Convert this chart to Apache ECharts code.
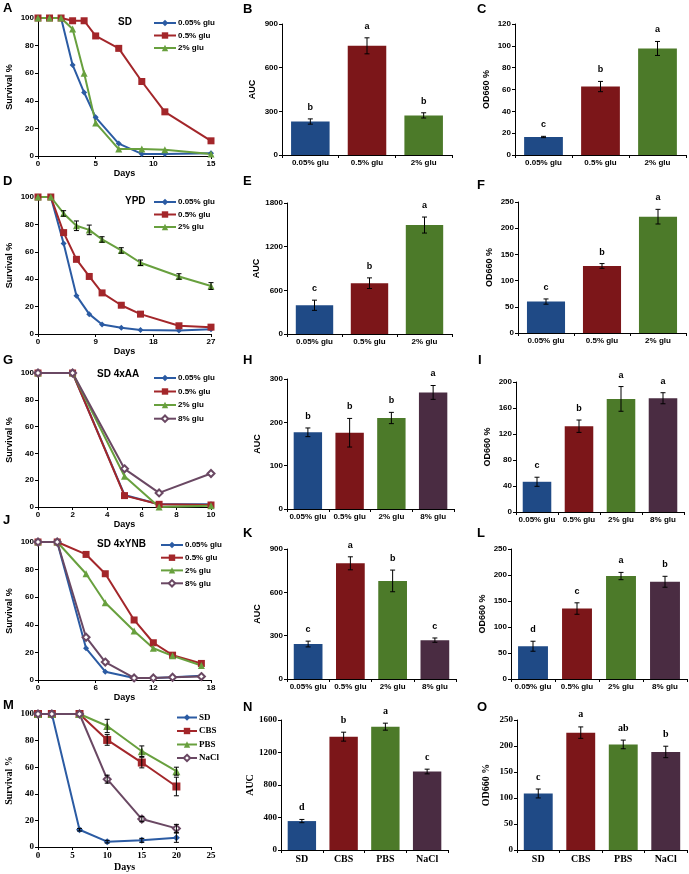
<!DOCTYPE html>
<html>
<head>
<meta charset="utf-8">
<script src="https://cdn.jsdelivr.net/npm/echarts@6/dist/echarts.min.js"></script>
<style>
html,body{margin:0;padding:0;background:#fff}
#main{width:689px;height:874px}
</style>
</head>
<body>
<div id="main"></div>
<script>
var SANS = 'Liberation Sans, Arial, sans-serif';
var SERIF = 'Liberation Serif, Times New Roman, serif';

// ---- survival curves ----
var daysA = [0, 1, 2, 3, 4, 5, 7, 9, 11, 15];
var aLow  = [100, 100, 100, 66, 46, 28, 9, 1.5, 1.5, 2];
var aMid  = [100, 100, 100, 98, 98, 87, 78, 54, 32, 11];
var aHigh = [100, 100, 100, 92, 60, 24, 5, 5, 4.5, 1.5];

var daysD = [0, 2, 4, 6, 8, 10, 13, 16, 22, 27];
var dLow  = [100, 100, 66, 28, 14.5, 7, 4.5, 3, 2.5, 3.5];
var dMid  = [100, 100, 74, 54.5, 42, 30, 21, 14.5, 6, 5];
var dHigh = [100, 100, 88, 79, 76, 69, 61, 52, 42, 35];
var dHighErr = [0, 0, 2, 3.5, 3.5, 2, 2, 2, 2, 2.5];

var daysG = [0, 2, 5, 7, 10];
var gLow  = [100, 100, 9, 2, 2];
var gMid  = [100, 100, 8.5, 2, 1.5];
var gHigh = [100, 100, 23, 0, 1];
var gMax  = [100, 100, 28.5, 10.5, 25];

var daysJ = [0, 2, 5, 7, 10, 12, 14, 17];
var jLow  = [100, 100, 23, 6, 1.5, 1.5, 2, 3];
var jMid  = [100, 100, 91, 77, 43.5, 27, 18, 12];
var jHigh = [100, 100, 77, 56, 35.5, 23, 17.5, 10.5];
var jMax  = [100, 100, 31, 13, 1.5, 1.5, 2, 2.5];

var daysM = [0, 2, 6, 10, 15, 20];
var mSD   = [100, 100, 13, 4, 5, 7];
var mCBS  = [100, 100, 100, 80.5, 63.5, 45.5];
var mPBS  = [100, 100, 100, 91, 72, 57];
var mNaCl = [100, 100, 100, 51, 21, 14];
var mSDErr   = [0, 0, 1, 1, 1.5, 3.5];
var mCBSErr  = [0, 0, 0, 4, 4, 7];
var mPBSErr  = [0, 0, 0, 5, 4, 3];
var mNaClErr = [0, 0, 0, 3, 2, 3];

var survTicks = [0, 20, 40, 60, 80, 100];
var ticksA = [0, 5, 10, 15];
var ticksD = [0, 9, 18, 27];
var ticksG = [0, 2, 4, 6, 8, 10];
var ticksJ = [0, 6, 12, 18];
var ticksM = [0, 5, 10, 15, 20, 25];

// ---- bar panels ----
var glu3 = ['0.05% glu', '0.5% glu', '2% glu'];
var glu4 = ['0.05% glu', '0.5% glu', '2% glu', '8% glu'];
var media = ['SD', 'CBS', 'PBS', 'NaCl'];

var bVal = [230, 750, 272],   bErr = [18, 55, 18],   bSig = ['b', 'a', 'b'];
var cVal = [16.5, 62.7, 97.6], cErr = [0.6, 4.7, 6.4], cSig = ['c', 'b', 'a'];
var eVal = [395, 698, 1497],  eErr = [70, 73, 110],  eSig = ['c', 'b', 'a'];
var fVal = [60, 128, 222],    fErr = [5, 4.5, 14],   fSig = ['c', 'b', 'a'];
var hVal = [177, 176, 210, 269], hErr = [10, 33, 13, 16], hSig = ['b', 'b', 'b', 'a'];
var iVal = [46.5, 132, 174, 175], iErr = [7, 9.5, 19, 8.5], iSig = ['c', 'b', 'a', 'a'];
var kVal = [242, 801, 679, 269], kErr = [20, 45, 75, 15], kSig = ['c', 'a', 'b', 'c'];
var lVal = [63, 135.5, 198, 187], lErr = [9.6, 11, 7, 10.5], lSig = ['d', 'c', 'a', 'b'];
var nVal = [356, 1395, 1518, 966], nErr = [20, 55, 43, 29], nSig = ['d', 'b', 'a', 'c'];
var oVal = [108.7, 225.7, 203, 188.6], oErr = [8.6, 11, 8.3, 11], oSig = ['c', 'a', 'ab', 'b'];

var ticksB = [0, 300, 600, 900];
var ticksC = [0, 20, 40, 60, 80, 100, 120];
var ticksE = [0, 600, 1200, 1800];
var ticksF = [0, 50, 100, 150, 200, 250];
var ticksH = [0, 100, 200, 300];
var ticksI = [0, 40, 80, 120, 160, 200];
var ticksK = [0, 300, 600, 900];
var ticksL = [0, 50, 100, 150, 200, 250];
var ticksN = [0, 400, 800, 1200, 1600];
var ticksO = [0, 50, 100, 150, 200, 250];

var barCol = ['#1f4a86', '#7c1619', '#4c7a29', '#4a2c42'];
var lineBlue = '#2b5ba3', lineRed = '#a3262a', lineGreen = '#68a03e', linePurple = '#6a4863';

var chart = echarts.init(document.getElementById('main'));
var grids = [], xAxes = [], yAxes = [], series = [], legends = [], graphics = [];

function axisBase(font, size) {
  return {
    axisLine: { show: true, onZero: false, lineStyle: { color: '#000', width: 1 } },
    axisTick: { show: true, length: 3, lineStyle: { color: '#000', width: 1 } },
    splitLine: { show: false },
    axisLabel: { color: '#000', fontFamily: font, fontSize: size, fontWeight: 'bold', margin: 4,
      formatter: function (v) { return String(v); } },
    nameTextStyle: { color: '#000', fontFamily: font, fontSize: size + 1, fontWeight: 'bold' }
  };
}

function range(t) {
  return { min: t[0], max: t[t.length - 1], interval: t[1] - t[0] };
}

function errSeries(gi, xs, vals, errs, sig, font, fsize) {
  return {
    type: 'custom', xAxisIndex: gi, yAxisIndex: gi, z: 10, silent: true,
    data: vals.map(function (v, i) { return [xs[i], v, errs[i]]; }),
    renderItem: function (params, api) {
      var x = api.value(0), v = api.value(1), e = api.value(2);
      var t = api.coord([x, v + e]), b = api.coord([x, v - e]);
      var st = { stroke: '#000', lineWidth: 1 };
      var kids = [];
      if (e > 0) {
        kids.push({ type: 'line', shape: { x1: t[0], y1: t[1], x2: b[0], y2: b[1] }, style: st });
        kids.push({ type: 'line', shape: { x1: t[0] - 2.5, y1: t[1], x2: t[0] + 2.5, y2: t[1] }, style: st });
        kids.push({ type: 'line', shape: { x1: b[0] - 2.5, y1: b[1], x2: b[0] + 2.5, y2: b[1] }, style: st });
      }
      if (sig) {
        kids.push({ type: 'text', style: { text: sig[params.dataIndex], x: t[0], y: t[1] - 7,
          align: 'center', verticalAlign: 'bottom', fill: '#000',
          font: 'bold ' + fsize + 'px ' + font } });
      }
      return { type: 'group', children: kids };
    }
  };
}

function addLetter(txt, x, y) {
  graphics.push({ type: 'text', left: x, top: y,
    style: { text: txt, fill: '#000', font: 'bold 13px ' + SANS } });
}

function addSub(txt, x, y) {
  graphics.push({ type: 'text', left: x, top: y,
    style: { text: txt, fill: '#000', font: 'bold 10px ' + SANS } });
}

function linePanel(rect, xt, font, fs, lines, leg, gapX, errs) {
  var gi = grids.length;
  grids.push({ left: rect[0], top: rect[1], width: rect[2], height: rect[3] });
  var xa = Object.assign(axisBase(font, fs), range(xt), {
    type: 'value', gridIndex: gi, name: 'Days', nameLocation: 'middle', nameGap: gapX
  });
  var ya = Object.assign(axisBase(font, fs), range(survTicks), {
    type: 'value', gridIndex: gi, name: 'Survival %', nameLocation: 'middle', nameGap: 24
  });
  xAxes.push(xa); yAxes.push(ya);
  lines.forEach(function (l) {
    series.push({
      type: 'line', name: l.name, xAxisIndex: gi, yAxisIndex: gi,
      data: l.vals.map(function (v, i) { return [l.days[i], v]; }),
      symbol: l.symbol, symbolSize: l.size, showSymbol: true,
      lineStyle: { color: l.color, width: 2 },
      itemStyle: { color: l.color, borderColor: l.color, borderWidth: l.symbol === 'emptyDiamond' ? 1.2 : 0 },
      z: 3
    });
  });
  (errs || []).forEach(function (e) {
    series.push(errSeries(gi, e.days, e.vals, e.errs, null, font, fs));
  });
  legends.push({
    orient: 'vertical', left: leg[0], top: leg[1], itemWidth: leg[2], itemHeight: 8, itemGap: leg[3],
    padding: 0, selectedMode: false,
    data: lines.map(function (l) { return l.name; }),
    textStyle: { color: '#000', fontFamily: font, fontSize: leg[4], fontWeight: 'bold', padding: [0, 0, 0, -3] }
  });
}

function barPanel(rect, cats, vals, errs, sig, yt, yname, font, fs, gapY, lblSize) {
  var gi = grids.length;
  grids.push({ left: rect[0], top: rect[1], width: rect[2], height: rect[3] });
  var xa = Object.assign(axisBase(font, fs), {
    type: 'category', gridIndex: gi, data: cats
  });
  xa.axisLabel.fontSize = lblSize;
  xa.axisLabel.interval = 0;
  var ya = Object.assign(axisBase(font, fs), range(yt), {
    type: 'value', gridIndex: gi, name: yname, nameLocation: 'middle', nameGap: gapY
  });
  xAxes.push(xa); yAxes.push(ya);
  series.push({
    type: 'bar', xAxisIndex: gi, yAxisIndex: gi, barWidth: '68%',
    data: vals.map(function (v, i) { return { value: v, itemStyle: { color: barCol[i] } }; })
  });
  var idx = cats.map(function (c, i) { return i; });
  series.push(errSeries(gi, idx, vals, errs, sig, font, fs + 1));
}

var dia = 'diamond', sq = 'rect', tri = 'triangle', odia = 'emptyDiamond';

// A
linePanel([38, 18, 173, 138], ticksA, SANS, 8, [
  { name: '0.05% glu', days: daysA, vals: aLow, color: lineBlue, symbol: dia, size: 6 },
  { name: '0.5% glu', days: daysA, vals: aMid, color: lineRed, symbol: sq, size: 7 },
  { name: '2% glu', days: daysA, vals: aHigh, color: lineGreen, symbol: tri, size: 7 }
], [153, 19, 22, 4.5, 8], 12);
// D
linePanel([38, 197, 173, 137], ticksD, SANS, 8, [
  { name: '0.05% glu', days: daysD, vals: dLow, color: lineBlue, symbol: dia, size: 6 },
  { name: '0.5% glu', days: daysD, vals: dMid, color: lineRed, symbol: sq, size: 7 },
  { name: '2% glu', days: daysD, vals: dHigh, color: lineGreen, symbol: tri, size: 7 }
], [153, 198, 22, 4.5, 8], 12, [{ days: daysD, vals: dHigh, errs: dHighErr }]);
// G
linePanel([38, 373, 173, 134], ticksG, SANS, 8, [
  { name: '0.05% glu', days: daysG, vals: gLow, color: lineBlue, symbol: dia, size: 6 },
  { name: '0.5% glu', days: daysG, vals: gMid, color: lineRed, symbol: sq, size: 7 },
  { name: '2% glu', days: daysG, vals: gHigh, color: lineGreen, symbol: tri, size: 7 },
  { name: '8% glu', days: daysG, vals: gMax, color: linePurple, symbol: odia, size: 7 }
], [153, 374, 22, 5.5, 8], 12);
// J
linePanel([38, 542, 173, 138], ticksJ, SANS, 8, [
  { name: '0.05% glu', days: daysJ, vals: jLow, color: lineBlue, symbol: dia, size: 6 },
  { name: '0.5% glu', days: daysJ, vals: jMid, color: lineRed, symbol: sq, size: 7 },
  { name: '2% glu', days: daysJ, vals: jHigh, color: lineGreen, symbol: tri, size: 7 },
  { name: '8% glu', days: daysJ, vals: jMax, color: linePurple, symbol: odia, size: 7 }
], [160, 541, 22, 4.7, 8], 12);
// M
linePanel([38, 714, 173, 133], ticksM, SERIF, 9, [
  { name: 'SD', days: daysM, vals: mSD, color: lineBlue, symbol: dia, size: 7 },
  { name: 'CBS', days: daysM, vals: mCBS, color: lineRed, symbol: sq, size: 8 },
  { name: 'PBS', days: daysM, vals: mPBS, color: lineGreen, symbol: tri, size: 8 },
  { name: 'NaCl', days: daysM, vals: mNaCl, color: linePurple, symbol: odia, size: 7 }
], [176, 713, 20, 4.5, 9], 15, [
  { days: daysM, vals: mSD, errs: mSDErr },
  { days: daysM, vals: mCBS, errs: mCBSErr },
  { days: daysM, vals: mPBS, errs: mPBSErr },
  { days: daysM, vals: mNaCl, errs: mNaClErr }
]);

// bars
barPanel([282, 24, 170, 131], glu3, bVal, bErr, bSig, ticksB, 'AUC', SANS, 8, 25, 8);
barPanel([515, 24, 171, 131], glu3, cVal, cErr, cSig, ticksC, 'OD660 %', SANS, 8, 24, 8);
barPanel([287, 203, 165, 131], glu3, eVal, eErr, eSig, ticksE, 'AUC', SANS, 8, 25, 8);
barPanel([518, 202, 168, 131], glu3, fVal, fErr, fSig, ticksF, 'OD660 %', SANS, 8, 24, 8);
barPanel([287, 379, 167, 130], glu4, hVal, hErr, hSig, ticksH, 'AUC', SANS, 8, 25, 8);
barPanel([516, 382, 168, 130], glu4, iVal, iErr, iSig, ticksI, 'OD660 %', SANS, 8, 24, 8);
barPanel([287, 549, 169, 130], glu4, kVal, kErr, kSig, ticksK, 'AUC', SANS, 8, 25, 8);
barPanel([511, 549, 176, 130], glu4, lVal, lErr, lSig, ticksL, 'OD660 %', SANS, 8, 24, 8);
barPanel([281, 720, 167, 130], media, nVal, nErr, nSig, ticksN, 'AUC', SERIF, 9, 26, 10);
barPanel([517, 720, 170, 130], media, oVal, oErr, oSig, ticksO, 'OD660 %', SERIF, 9, 26, 10);

// panel letters and subtitles
addLetter('A', 3, 2); addLetter('B', 243, 3); addLetter('C', 477, 3);
addLetter('D', 3, 175); addLetter('E', 243, 175); addLetter('F', 477, 179);
addLetter('G', 3, 354); addLetter('H', 243, 354); addLetter('I', 478, 354);
addLetter('J', 3, 514); addLetter('K', 243, 527); addLetter('L', 477, 527);
addLetter('M', 3, 699); addLetter('N', 243, 701); addLetter('O', 477, 701);
addSub('SD', 118, 17); addSub('YPD', 125, 196);
addSub('SD 4xAA', 97, 369); addSub('SD 4xYNB', 97, 539);

chart.setOption({
  animation: false,
  backgroundColor: '#fff',
  grid: grids, xAxis: xAxes, yAxis: yAxes,
  legend: legends, series: series, graphic: graphics
});
</script>
</body>
</html>
